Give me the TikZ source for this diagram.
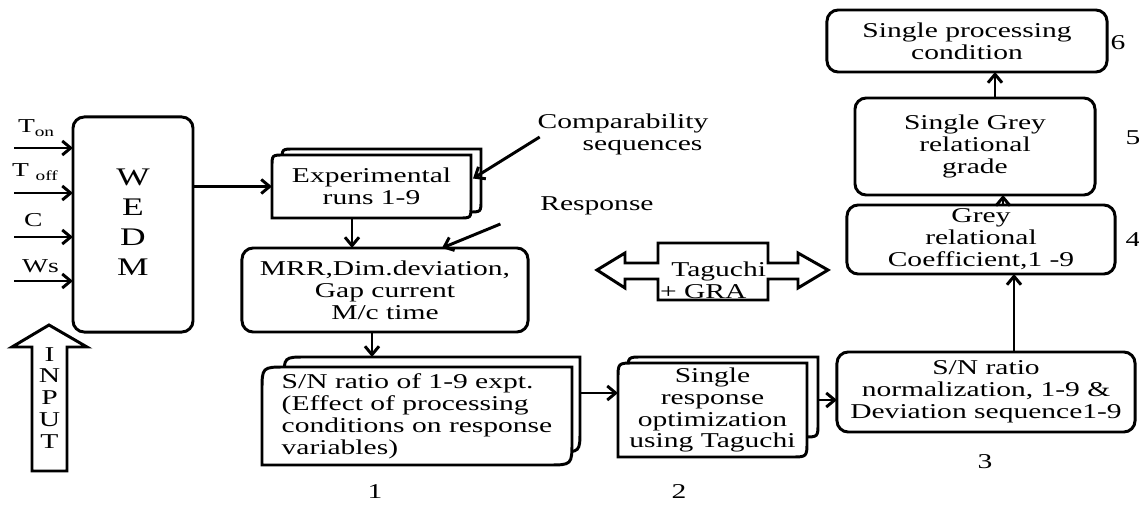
\documentclass[tikz,border=0pt]{standalone}
\usepackage{fontspec}
\setmainfont{Liberation Serif}[FakeStretch=1.4]
\usetikzlibrary{arrows.meta,calc}
\tikzset{
  every node/.style={font=\fontsize{15}{15.6}\selectfont, inner sep=0pt, outer sep=0pt},
  rbox/.style={draw, line width=2.1pt, rounded corners=8pt, align=center},
  dbox/.style={align=center},
  docline/.style={draw, fill=white, line width=2.1pt},
  arr/.style={line width=2.1pt, -{Straight Barb[length=6pt,width=10pt]}},
  fat/.style={draw, line width=2.1pt, line join=miter},
  lab/.style={font=\fontsize{14}{16}\selectfont, anchor=base west},
}
% stacked document outline: x1, y1, x2, y2, corner
\newcommand{\docshape}[5]{%
  \draw[docline] (#1,#4) -- (#1,#2+#5) .. controls (#1,#2) .. (#1+#5,#2)
    -- (#3,#2) -- (#3,#4-#5) .. controls (#3,#4) .. (#3-#5,#4) -- cycle;}

\begin{document}
\begin{tikzpicture}[x=0.025cm, y=-0.025cm]
  \useasboundingbox (0,0) rectangle (1139,505);

  %%% document stacks
  \docshape{282}{149}{481}{212}{12}
  \docshape{272}{155}{471}{218}{12}
  \docshape{284}{357}{580}{452}{22}
  \docshape{262}{367}{572}{465}{24}
  \docshape{628}{357}{818}{437}{14}
  \docshape{618}{363}{807}{457}{16}

  %%% block arrows
  \draw[fat] (32,471) -- (32,347) -- (12,347) -- (49,325) -- (87,347) -- (67,347) -- (67,471) -- cycle;
  \draw[fat] (597,270) -- (625,253) -- (625,263) -- (658,263) -- (658,243) -- (768,243) -- (768,263)
    -- (798,263) -- (798,253) -- (828,270) -- (798,288) -- (798,279) -- (768,279) -- (768,300)
    -- (658,300) -- (658,279) -- (625,279) -- (625,288) -- cycle;

  %%% boxes
  \node[rbox, minimum width=3cm, minimum height=5.375cm, font=\fontsize{18}{21.3}\selectfont] (wedm) at (133,224.5)
    {\raisebox{-6pt}{\begin{tabular}{@{}c@{}}W\\E\\D\\M\end{tabular}}};
  \node[dbox, minimum width=4.975cm, minimum height=1.575cm] (runs) at (371.5,186.5) {Experimental\\runs 1-9};
  \node[rbox, minimum width=7.15cm, minimum height=2.1cm] (mrr) at (385,290) {MRR,Dim.deviation,\\Gap current\\M/c time};
  \node[dbox, align=left, minimum width=7.75cm, minimum height=2.45cm] (sn) at (417,416)
    {S/N ratio of 1-9 expt.\\(Effect of processing\\conditions on response\\variables)};
  \node[dbox, minimum width=4.725cm, minimum height=2.35cm] (sr) at (712.5,410) {Single\\response\\optimization\\using Taguchi};
  \node[rbox, minimum width=7.45cm, minimum height=2cm] (norm) at (986,392) {S/N ratio\\normalization, 1-9 \&\\Deviation sequence1-9};
  \node[rbox, minimum width=6.7cm, minimum height=1.725cm] (grey) at (981,239.5) {Grey\\relational\\Coefficient,1 -9};
  \node[rbox, minimum width=6cm, minimum height=2.425cm] (sgrey) at (975,146.5) {Single Grey\\relational\\grade};
  \node[rbox, minimum width=7cm, minimum height=1.55cm] (proc) at (967,41) {Single processing\\condition};

  %%% labels
  \node[align=left] (cmp) at (623,134) {Comparability\\\hspace*{32pt}sequences};
  \node (resp) at (597,206) {Response};
  \node[align=center] (inp) at (49.5,398) {I\\N\\P\\U\\T};
  \node[align=left] (tg) at (713,280) {\hspace*{8pt}Taguchi\\+ GRA};
  \node (n1) at (375,492) {1};
  \node (n2) at (679,492) {2};
  \node (n3) at (985,462) {3};
  \node (n4) at (1133,240) {4};
  \node (n5) at (1133,138) {5};
  \node (n6) at (1118,43) {6};

  \node[lab] (ton) at (18,133) {T\textsubscript{on}};
  \node[lab] (toff) at (12,177) {T \textsubscript{off}};
  \node[lab] (cin) at (24,227) {C};
  \node[lab] (wsin) at (22,272) {Ws};

  %%% connectors
  \foreach \y [count=\i] in {148,193,237,281} {
    \coordinate (in\i) at (14,\y);
    \draw[arr] (in\i) -- (in\i -| wedm.west);
  }
  \draw[arr] (wedm.east |- runs.west) -- (runs.west);
  \draw[arr] ($(cmp.west)+(2,3)$) -- ($(runs.east)+(2,-8)$);
  \coordinate (rdown) at ($(runs.south)+(-19.5,0)$);
  \draw[arr] (rdown) -- (rdown |- mrr.north);
  \draw[arr] ($(resp.west)+(-40,18)$) -- ($(mrr.north)+(57,0)$);
  \coordinate (mdown) at ($(mrr.south)+(-13,0)$);
  \draw[arr] (mdown) -- ($(mdown |- sn.north)+(0,-10)$);
  \coordinate (snout) at ($(sn.east)+(8,-23)$);
  \draw[arr] (snout) -- (snout -| sr.west);
  \coordinate (srout) at ($(sr.east)+(11,-10)$);
  \draw[arr] (srout) -- (srout -| norm.west);
  \coordinate (nup) at ($(norm.north)+(28,0)$);
  \draw[arr] (nup) -- (nup |- grey.south);
  \coordinate (gup) at ($(grey.north)+(22,0)$);
  \draw[arr] (gup) -- (gup |- sgrey.south);
  \coordinate (sgup) at ($(sgrey.north)+(20,0)$);
  \draw[arr] (sgup) -- (sgup |- proc.south);
\end{tikzpicture}
\end{document}
